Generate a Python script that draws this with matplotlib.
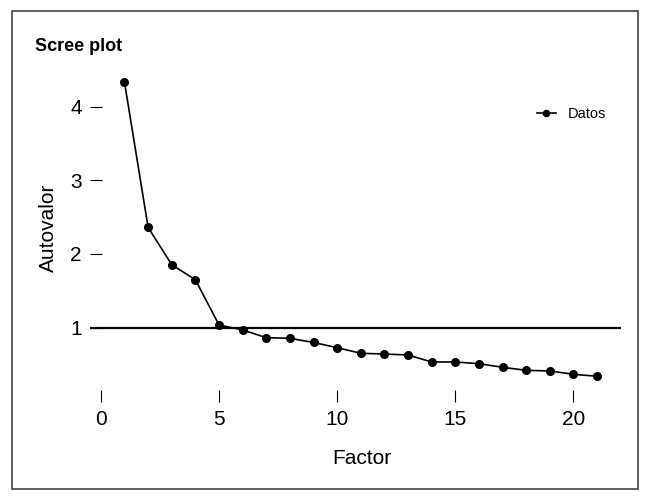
import numpy as np
import matplotlib
matplotlib.use("Agg")
import matplotlib.pyplot as plt
from matplotlib.patches import Rectangle

plt.rcParams['font.family'] = ['Liberation Sans', 'DejaVu Sans']

# datos del scree plot
factor = [1, 2, 3, 4, 5, 6, 7, 8, 9, 10, 11, 12, 13, 14, 15, 16, 17, 18, 19, 20, 21]
autovalor = [4.33, 2.36, 1.855, 1.65, 1.037, 0.97, 0.865, 0.856, 0.80, 0.729, 0.653,
             0.643, 0.63, 0.535, 0.535, 0.512, 0.463, 0.422, 0.413, 0.368, 0.341]
x_ticks = [0, 5, 10, 15, 20]
y_ticks = [1, 2, 3, 4]
corte = 1

W, H = 645, 496
fig = plt.figure(figsize=(W / 100, H / 100), dpi=100)

# marco exterior
fig.patches.append(Rectangle((12 / W, 1 - 489 / H), 626 / W, 478 / H,
                             transform=fig.transFigure, fill=False,
                             edgecolor='#444444', linewidth=1.2))

ax = fig.add_axes([90 / W, 106 / H, 530.7 / W, 316.6 / H])
ax.set_xlim(-0.46, 22)
ax.set_ylim(0.155, 4.45)

ax.axhline(corte, color='black', linewidth=1.6, zorder=1)
ax.plot(factor, autovalor, color='black', linewidth=1.2, marker='o',
        markersize=5.5, label='Datos', zorder=2)

for s in ax.spines.values():
    s.set_visible(False)

ax.set_xticks(x_ticks)
ax.set_yticks(y_ticks)
ax.tick_params(axis='x', direction='out', length=8.5, width=0.8, pad=6, labelsize=15)
ax.tick_params(axis='y', direction='in', length=8.4, width=0.8, pad=6, labelsize=15)

fig.text(35 / W, 1 - 46.5 / H, 'Scree plot', fontsize=13, fontweight='bold',
         ha='left', va='center')
fig.text(48 / W, 1 - 228 / H, 'Autovalor', fontsize=15, rotation=90,
         ha='center', va='center')
fig.text(362 / W, 1 - 458 / H, 'Factor', fontsize=15, ha='center', va='center')

ax.legend(loc='center left', bbox_to_anchor=(536.7 / W, 1 - 114.3 / H),
          bbox_transform=fig.transFigure, frameon=False, fontsize=10.5,
          borderpad=0, borderaxespad=0, handlelength=1.3, handletextpad=0.8,
          markerscale=0.8)

fig.savefig('out.png', dpi=100)
